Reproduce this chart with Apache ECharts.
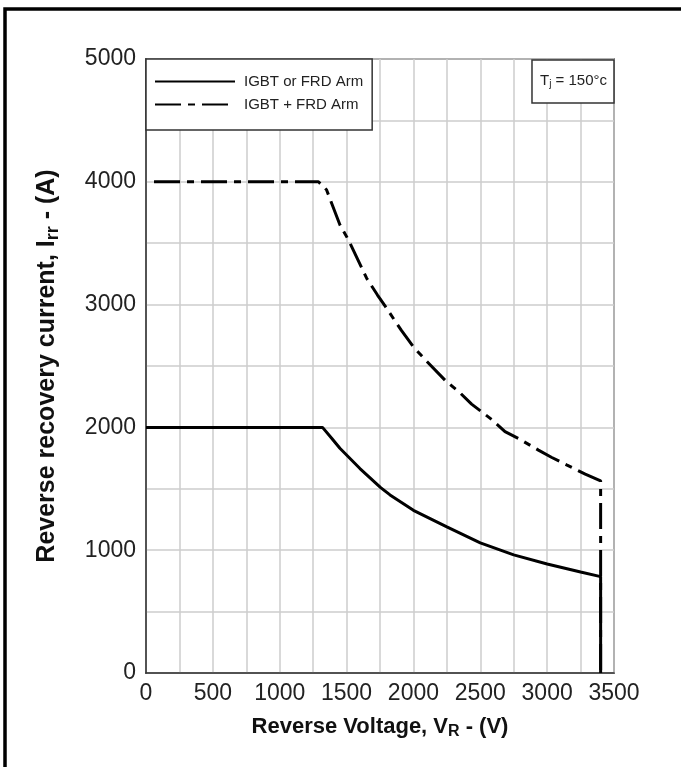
<!DOCTYPE html>
<html>
<head>
<meta charset="utf-8">
<title>Reverse recovery current vs reverse voltage</title>
<script src="https://cdn.jsdelivr.net/npm/echarts@6/dist/echarts.min.js"></script>
<style>
  html, body { margin: 0; padding: 0; background: #fff; }
  #chart { width: 681px; height: 767px; }
</style>
</head>
<body>
<div id="chart"></div>
<script>
// values
const solidName = 'IGBT or FRD Arm';
const solidV = [0, 1320, 1390, 1450, 1600, 1755, 1825, 2000, 2250, 2500, 2750, 3000, 3250, 3400, 3400];
const solidI = [2000, 2000, 1910, 1830, 1665, 1510, 1450, 1325, 1190, 1060, 962, 888, 822, 785, 0];

const dashName = 'IGBT + FRD Arm';
const dashV = [60, 1290, 1350, 1450, 1515, 1650, 1730, 1790, 1910, 2000, 2085, 2240, 2350, 2435, 2590, 2685, 2785, 2935, 3035, 3145, 3285, 3400, 3400];
const dashI = [4000, 4000, 3935, 3650, 3525, 3215, 3080, 2985, 2790, 2655, 2555, 2380, 2280, 2190, 2060, 1965, 1910, 1815, 1755, 1695, 1620, 1565, 0];

const xMin = 0, xMax = 3500, xStep = 250, xLabelStep = 500;
const yMin = 0, yMax = 5000, yStep = 500, yLabelStep = 1000;

const font = 'Liberation Sans, Arial, sans-serif';

const pairs = (xs, ys) => xs.map((x, i) => [x, ys[i]]);

const chart = echarts.init(document.getElementById('chart'));

chart.setOption({
  backgroundColor: '#fff',
  animation: false,
  grid: {
    left: 146,
    right: 67,
    top: 59,
    bottom: 94,
    show: true,
    borderColor: '#333',
    borderWidth: 1.5,
    backgroundColor: 'transparent'
  },
  legend: {
    orient: 'vertical',
    left: 146,
    top: 59,
    itemWidth: 80,
    itemHeight: 14,
    itemGap: 8,
    padding: [15, 9, 18, 8],
    backgroundColor: '#fff',
    borderColor: '#333',
    borderWidth: 1.5,
    borderRadius: 0,
    itemStyle: { opacity: 0 },
    textStyle: {
      fontFamily: font,
      fontSize: 15,
      color: '#222',
      padding: [0, 0, 0, 4]
    },
    data: [solidName, dashName]
  },
  title: {
    text: 'T{sub|j} = 150°c',
    right: 67,
    top: 59,
    padding: [14, 7, 14, 8],
    backgroundColor: '#fff',
    borderColor: '#333',
    borderWidth: 1.5,
    textStyle: {
      fontFamily: font,
      fontSize: 15,
      fontWeight: 'normal',
      color: '#222',
      rich: {
        sub: { fontFamily: font, fontSize: 10, color: '#222', verticalAlign: 'bottom', padding: [6, 0, 0, 0] }
      }
    }
  },
  xAxis: {
    type: 'value',
    min: xMin,
    max: xMax,
    interval: xStep,
    name: 'Reverse Voltage, V{sub|R} - (V)',
    nameLocation: 'middle',
    nameGap: 40,
    nameTextStyle: {
      fontFamily: font,
      fontSize: 22,
      fontWeight: 'bold',
      color: '#111',
      rich: {
        sub: { fontFamily: font, fontSize: 16, color: '#111', padding: [11, 0, 0, 0] }
      }
    },
    axisLine: { show: true, lineStyle: { color: '#333', width: 1.5 } },
    axisTick: { show: false },
    axisLabel: {
      margin: 9,
      fontFamily: font,
      fontSize: 23,
      color: '#222',
      formatter: v => (v % xLabelStep === 0 ? String(v) : '')
    },
    splitLine: { show: true, lineStyle: { color: '#cccccc', width: 1.5 } }
  },
  yAxis: {
    type: 'value',
    min: yMin,
    max: yMax,
    interval: yStep,
    name: 'Reverse recovery current, I{sub|rr} - (A)',
    nameLocation: 'middle',
    nameRotate: 90,
    nameGap: 84,
    nameTextStyle: {
      fontFamily: font,
      fontSize: 25,
      fontWeight: 'bold',
      color: '#111',
      rich: {
        sub: { fontFamily: font, fontSize: 18, color: '#111', padding: [12, 0, 0, 0] }
      }
    },
    axisLine: { show: true, lineStyle: { color: '#333', width: 1.5 } },
    axisTick: { show: false },
    axisLabel: {
      margin: 10,
      fontFamily: font,
      fontSize: 23,
      color: '#222',
      formatter: v => (v % yLabelStep === 0 ? String(v) : '')
    },
    splitLine: { show: true, lineStyle: { color: '#cccccc', width: 1.5 } }
  },
  series: [
    {
      name: solidName,
      type: 'line',
      symbol: 'none',
      lineStyle: { color: '#000', width: 3, type: 'solid' },
      itemStyle: { color: '#000' },
      data: pairs(solidV, solidI),
      z: 3
    },
    {
      name: dashName,
      type: 'line',
      symbol: 'none',
      lineStyle: { color: '#000', width: 3, type: [26, 7, 7, 7] },
      itemStyle: { color: '#000' },
      data: pairs(dashV, dashI),
      z: 3
    }
  ],
  graphic: [
    {
      // frame of the scanned page: only top and left edges show
      type: 'polyline',
      shape: { points: [[5, 767], [5, 9], [681, 9]] },
      style: { fill: 'none', stroke: '#000', lineWidth: 3.5 },
      silent: true
    }
  ]
});

window.addEventListener('resize', () => chart.resize());
</script>
</body>
</html>
